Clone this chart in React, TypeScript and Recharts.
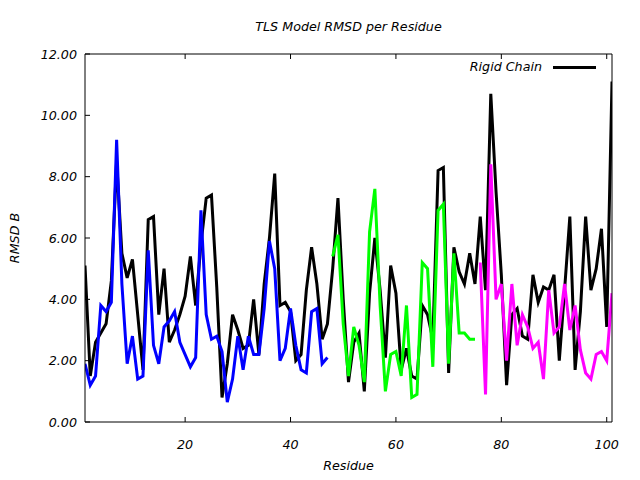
import { LineChart, Line, XAxis, YAxis } from "recharts";

// residue numbers and RMSD per chain segment
const blackRmsd = [
  5.1, 1.5, 2.6, 2.9, 3.2, 4.6, 8.5, 5.5, 4.7, 5.3,
  3.5, 1.7, 6.6, 6.7, 3.5, 5.0, 2.6, 3.0, 3.5, 4.1,
  5.4, 3.8, 5.8, 7.3, 7.4, 4.4, 0.8, 1.9, 3.5, 3.0,
  2.4, 2.5, 4.0, 2.2, 4.5, 6.0, 8.1, 3.8, 3.9, 3.6,
  2.0, 2.2, 4.3, 5.7, 4.5, 2.7, 3.2, 5.0, 7.3, 4.0,
  1.3, 2.6, 2.9, 1.0, 4.2, 6.0, 4.3, 2.1, 5.1, 4.2,
  1.7, 2.4, 1.5, 1.4, 3.8, 3.5, 2.7, 8.2, 8.3, 1.6,
  5.7, 4.9, 4.5, 5.5, 4.5, 6.7, 4.3, 10.7, 7.5, 4.8,
  1.2, 3.5, 3.7, 2.8, 2.7, 4.8, 3.9, 4.4, 4.3, 4.8,
  2.0, 4.3, 6.7, 1.7, 3.6, 6.7, 4.3, 5.0, 6.3, 3.1,
  11.1,
];
const blueStart = 1;
const blueRmsd = [
  1.9, 1.2, 1.5, 3.8, 3.6, 3.9, 9.2, 4.5, 1.9, 2.8,
  1.4, 1.5, 5.6, 2.5, 1.9, 3.1, 3.3, 3.6, 2.6, 2.2,
  1.8, 2.1, 6.9, 3.5, 2.7, 2.8, 2.3, 0.65, 1.4, 2.8,
  1.7, 2.8, 2.2, 2.2, 3.7, 5.9, 5.0, 2.0, 2.4, 3.7,
  2.5, 1.7, 1.6, 3.6, 3.7, 1.9, 2.1,
];
const greenStart = 48;
const greenRmsd = [
  5.4, 6.1, 3.2, 1.5, 3.1, 2.5, 1.3, 6.2, 7.6, 3.8,
  1.0, 2.2, 2.3, 1.5, 3.8, 0.8, 0.9, 5.2, 5.0, 1.8,
  6.9, 7.1, 1.9, 5.5, 2.9, 2.9, 2.7, 2.7,
];
const magentaStart = 76;
const magentaRmsd = [
  5.2, 0.9, 8.4, 4.0, 4.5, 2.0, 4.5, 2.5, 3.5, 3.1,
  2.4, 2.6, 1.4, 4.3, 2.9, 3.1, 4.5, 3.0, 3.8, 2.35,
  1.6, 1.4, 2.2, 2.3, 2.0, 4.2,
];
const xTicks = [20, 40, 60, 80, 100];
const yTicks = [0, 2, 4, 6, 8, 10, 12];

const toRows = (vals: number[], start: number) =>
  vals.map((v, i) => ({ residue: start + i, rmsd: v }));

const FONT = "'DejaVu Sans', sans-serif";
const FS = 12.7;
const TICK = 5;

const LeftTick = ({ x, y, payload }: any) => (
  <g>
    <line x1={x + 8} x2={x + 8 + TICK} y1={y} y2={y} stroke="#000" />
    <text x={x} y={y + 4.5} textAnchor="end" fontSize={FS} fontStyle="italic" fontFamily={FONT} fill="#000">
      {payload.value.toFixed(2)}
    </text>
  </g>
);
const RightTick = ({ x, y }: any) => <line x1={x - TICK} x2={x} y1={y} y2={y} stroke="#000" />;
const BottomTick = ({ x, y, payload }: any) => (
  <g>
    <line x1={x} x2={x} y1={y - TICK} y2={y} stroke="#000" />
    <text x={x} y={y + 27} textAnchor="middle" fontSize={FS} fontStyle="italic" fontFamily={FONT} fill="#000">
      {payload.value}
    </text>
  </g>
);
const TopTick = ({ x, y }: any) => <line x1={x} x2={x} y1={y} y2={y + TICK} stroke="#000" />;

const txt: React.CSSProperties = {
  position: "absolute",
  fontFamily: FONT,
  fontStyle: "italic",
  fontSize: FS,
  color: "#000",
  whiteSpace: "nowrap",
  lineHeight: 1,
};

export default function App() {
  return (
    <div style={{ position: "absolute", left: 0, top: 0, width: 640, height: 480, background: "#fff" }}>
      <LineChart width={640} height={480} margin={{ top: 0, right: 0, bottom: 0, left: 0 }}>
        <XAxis xAxisId="b" dataKey="residue" type="number" domain={[1, 101]} ticks={xTicks} interval={0}
          orientation="bottom" height={58} tickSize={0} tickMargin={0} tickLine={false}
          axisLine={{ stroke: "#000" }} tick={<BottomTick />} allowDataOverflow />
        <XAxis xAxisId="t" dataKey="residue" type="number" domain={[1, 101]} ticks={xTicks} interval={0}
          orientation="top" height={54} tickSize={0} tickMargin={0} tickLine={false}
          axisLine={{ stroke: "#000" }} tick={<TopTick />} allowDataOverflow />
        <YAxis yAxisId="l" type="number" domain={[0, 12]} ticks={yTicks} interval={0}
          orientation="left" width={85} tickSize={0} tickMargin={8} tickLine={false}
          axisLine={{ stroke: "#000" }} tick={<LeftTick />} />
        <YAxis yAxisId="r" type="number" domain={[0, 12]} ticks={yTicks} interval={0}
          orientation="right" width={28} tickSize={0} tickMargin={0} tickLine={false}
          axisLine={{ stroke: "#000" }} tick={<RightTick />} />
        <Line xAxisId="b" yAxisId="l" data={toRows(blackRmsd, 1)} dataKey="rmsd" stroke="#000000"
          strokeWidth={3} dot={false} type="linear" isAnimationActive={false} />
        <Line xAxisId="b" yAxisId="l" data={toRows(blueRmsd, blueStart)} dataKey="rmsd" stroke="#0000ff"
          strokeWidth={3} dot={false} type="linear" isAnimationActive={false} />
        <Line xAxisId="b" yAxisId="l" data={toRows(greenRmsd, greenStart)} dataKey="rmsd" stroke="#00ff00"
          strokeWidth={3} dot={false} type="linear" isAnimationActive={false} />
        <Line xAxisId="b" yAxisId="l" data={toRows(magentaRmsd, magentaStart)} dataKey="rmsd" stroke="#ff00ff"
          strokeWidth={3} dot={false} type="linear" isAnimationActive={false} />
      </LineChart>
      <div style={{ ...txt, left: 0, width: 697, top: 21, textAlign: "center" }}>TLS Model RMSD per Residue</div>
      <div style={{ ...txt, left: 0, width: 697, top: 460, textAlign: "center" }}>Residue</div>
      <div style={{ ...txt, left: 15, top: 238, transform: "translate(-50%, -50%) rotate(-90deg)" }}>RMSD B</div>
      <div style={{ ...txt, right: 98, top: 61 }}>Rigid Chain</div>
      <div style={{ position: "absolute", left: 553, top: 66, width: 43, height: 3, background: "#000" }} />
    </div>
  );
}
